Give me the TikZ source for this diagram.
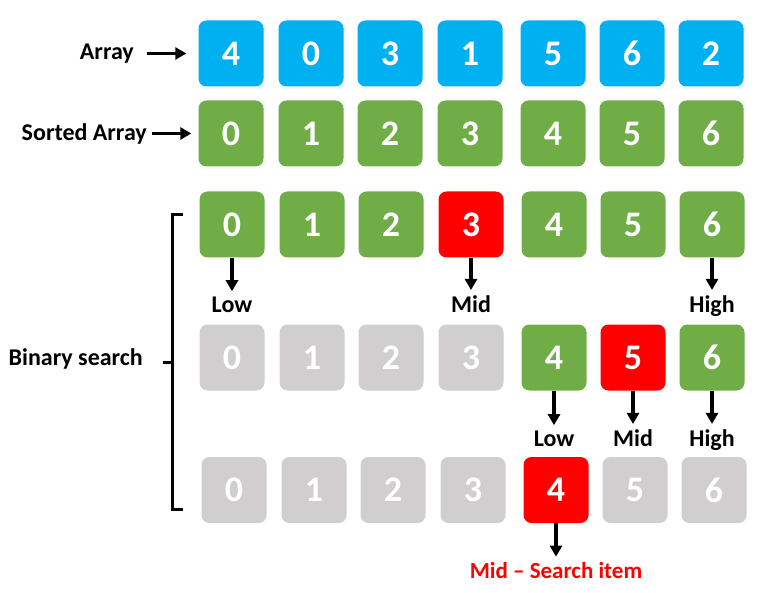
\documentclass[tikz,border=0pt]{standalone}
\usepackage{fontspec}
\setmainfont{Carlito}
\usetikzlibrary{arrows.meta}
\definecolor{arrblue}{HTML}{00B0F0}
\definecolor{sortgreen}{HTML}{70AD47}
\definecolor{midred}{HTML}{FF0000}
\definecolor{doneg}{HTML}{D0CECE}
\begin{document}
\begin{tikzpicture}[x=1pt,y=-1pt,>={Triangle[width=12pt,length=11pt]},
  cell/.style={rounded corners=8pt,minimum width=65pt,minimum height=66pt,inner sep=0pt,text=white,font=\fontsize{36}{36}\selectfont\bfseries},
  lbl/.style={inner sep=0pt,font=\fontsize{24}{24}\selectfont\bfseries},
  arr/.style={->,line width=3.2pt,shorten >=5pt}]
\useasboundingbox (0,0) rectangle (759,593);
% unsorted and sorted array
\foreach \v/\x [count=\i] in {4/231,0/311,3/390,1/470,5/553,6/632,2/711}
  \node[cell,fill=arrblue] (a\i) at (\x,53.5) {\v};
\foreach \v/\x [count=\i] in {0/231,1/311,2/390,3/470,4/553,5/632,6/711}
  \node[cell,fill=sortgreen] (s\i) at (\x,133.5) {\v};
\node[lbl,anchor=base east] (arrlbl) at (134,60) {Array};
\node[lbl,anchor=base east] (sortlbl) at (147,141) {Sorted Array};
\draw[arr,shorten <=13pt,shorten >=12pt] (arrlbl.east |- a1.west) -- (a1.west);
\draw[arr,shorten <=5pt,shorten >=7pt] (sortlbl.east |- s1.west) -- (s1.west);
% binary search steps
\foreach \v/\x/\c [count=\i] in {0/232/sortgreen,1/312/sortgreen,2/391/sortgreen,3/471/midred,4/554/sortgreen,5/633/sortgreen,6/712/sortgreen}
  \node[cell,fill=\c] (b\i) at (\x,224.5) {\v};
\foreach \v/\x/\c [count=\i] in {0/232/doneg,1/312/doneg,2/391/doneg,3/471/doneg,4/554/sortgreen,5/633/midred,6/712/sortgreen}
  \node[cell,fill=\c] (c\i) at (\x,357.5) {\v};
\foreach \v/\x/\c [count=\i] in {0/234/doneg,1/314/doneg,2/393/doneg,3/473/doneg,4/556/midred,5/635/doneg,6/714/doneg}
  \node[cell,fill=\c] (d\i) at (\x,490) {\v};
% pointers
\node[lbl,anchor=base] (low1) at (b1.south |- 0,312) {Low};
\node[lbl,anchor=base] (mid1) at (b4.south |- 0,312) {Mid};
\node[lbl,anchor=base] (high1) at (b7.south |- 0,312) {High};
\draw[arr] (b1.south) -- (low1.north);
\draw[arr] (b4.south) -- (mid1.north);
\draw[arr] (b7.south) -- (high1.north);
\node[lbl,anchor=base] (low2) at (c5.south |- 0,446) {Low};
\node[lbl,anchor=base] (mid2) at (c6.south |- 0,446) {Mid};
\node[lbl,anchor=base] (high2) at (c7.south |- 0,446) {High};
\draw[arr] (c5.south) -- (low2.north);
\draw[arr] (c6.south) -- (mid2.north);
\draw[arr] (c7.south) -- (high2.north);
\node[lbl,anchor=base,text=midred,font=\fontsize{23}{23}\selectfont\bfseries] (found) at (d5.south |- 0,578) {Mid – Search item};
\draw[arr] (d5.south) -- (found.north);
% bracket
\draw[line width=3pt] (183,215) -- (172,215) -- (172,509) -- (183,509);
\draw[line width=3pt] (172,362) -- (163,362);
\node[lbl,anchor=base east] (bslbl) at (143,365) {Binary search};
\end{tikzpicture}
\end{document}
